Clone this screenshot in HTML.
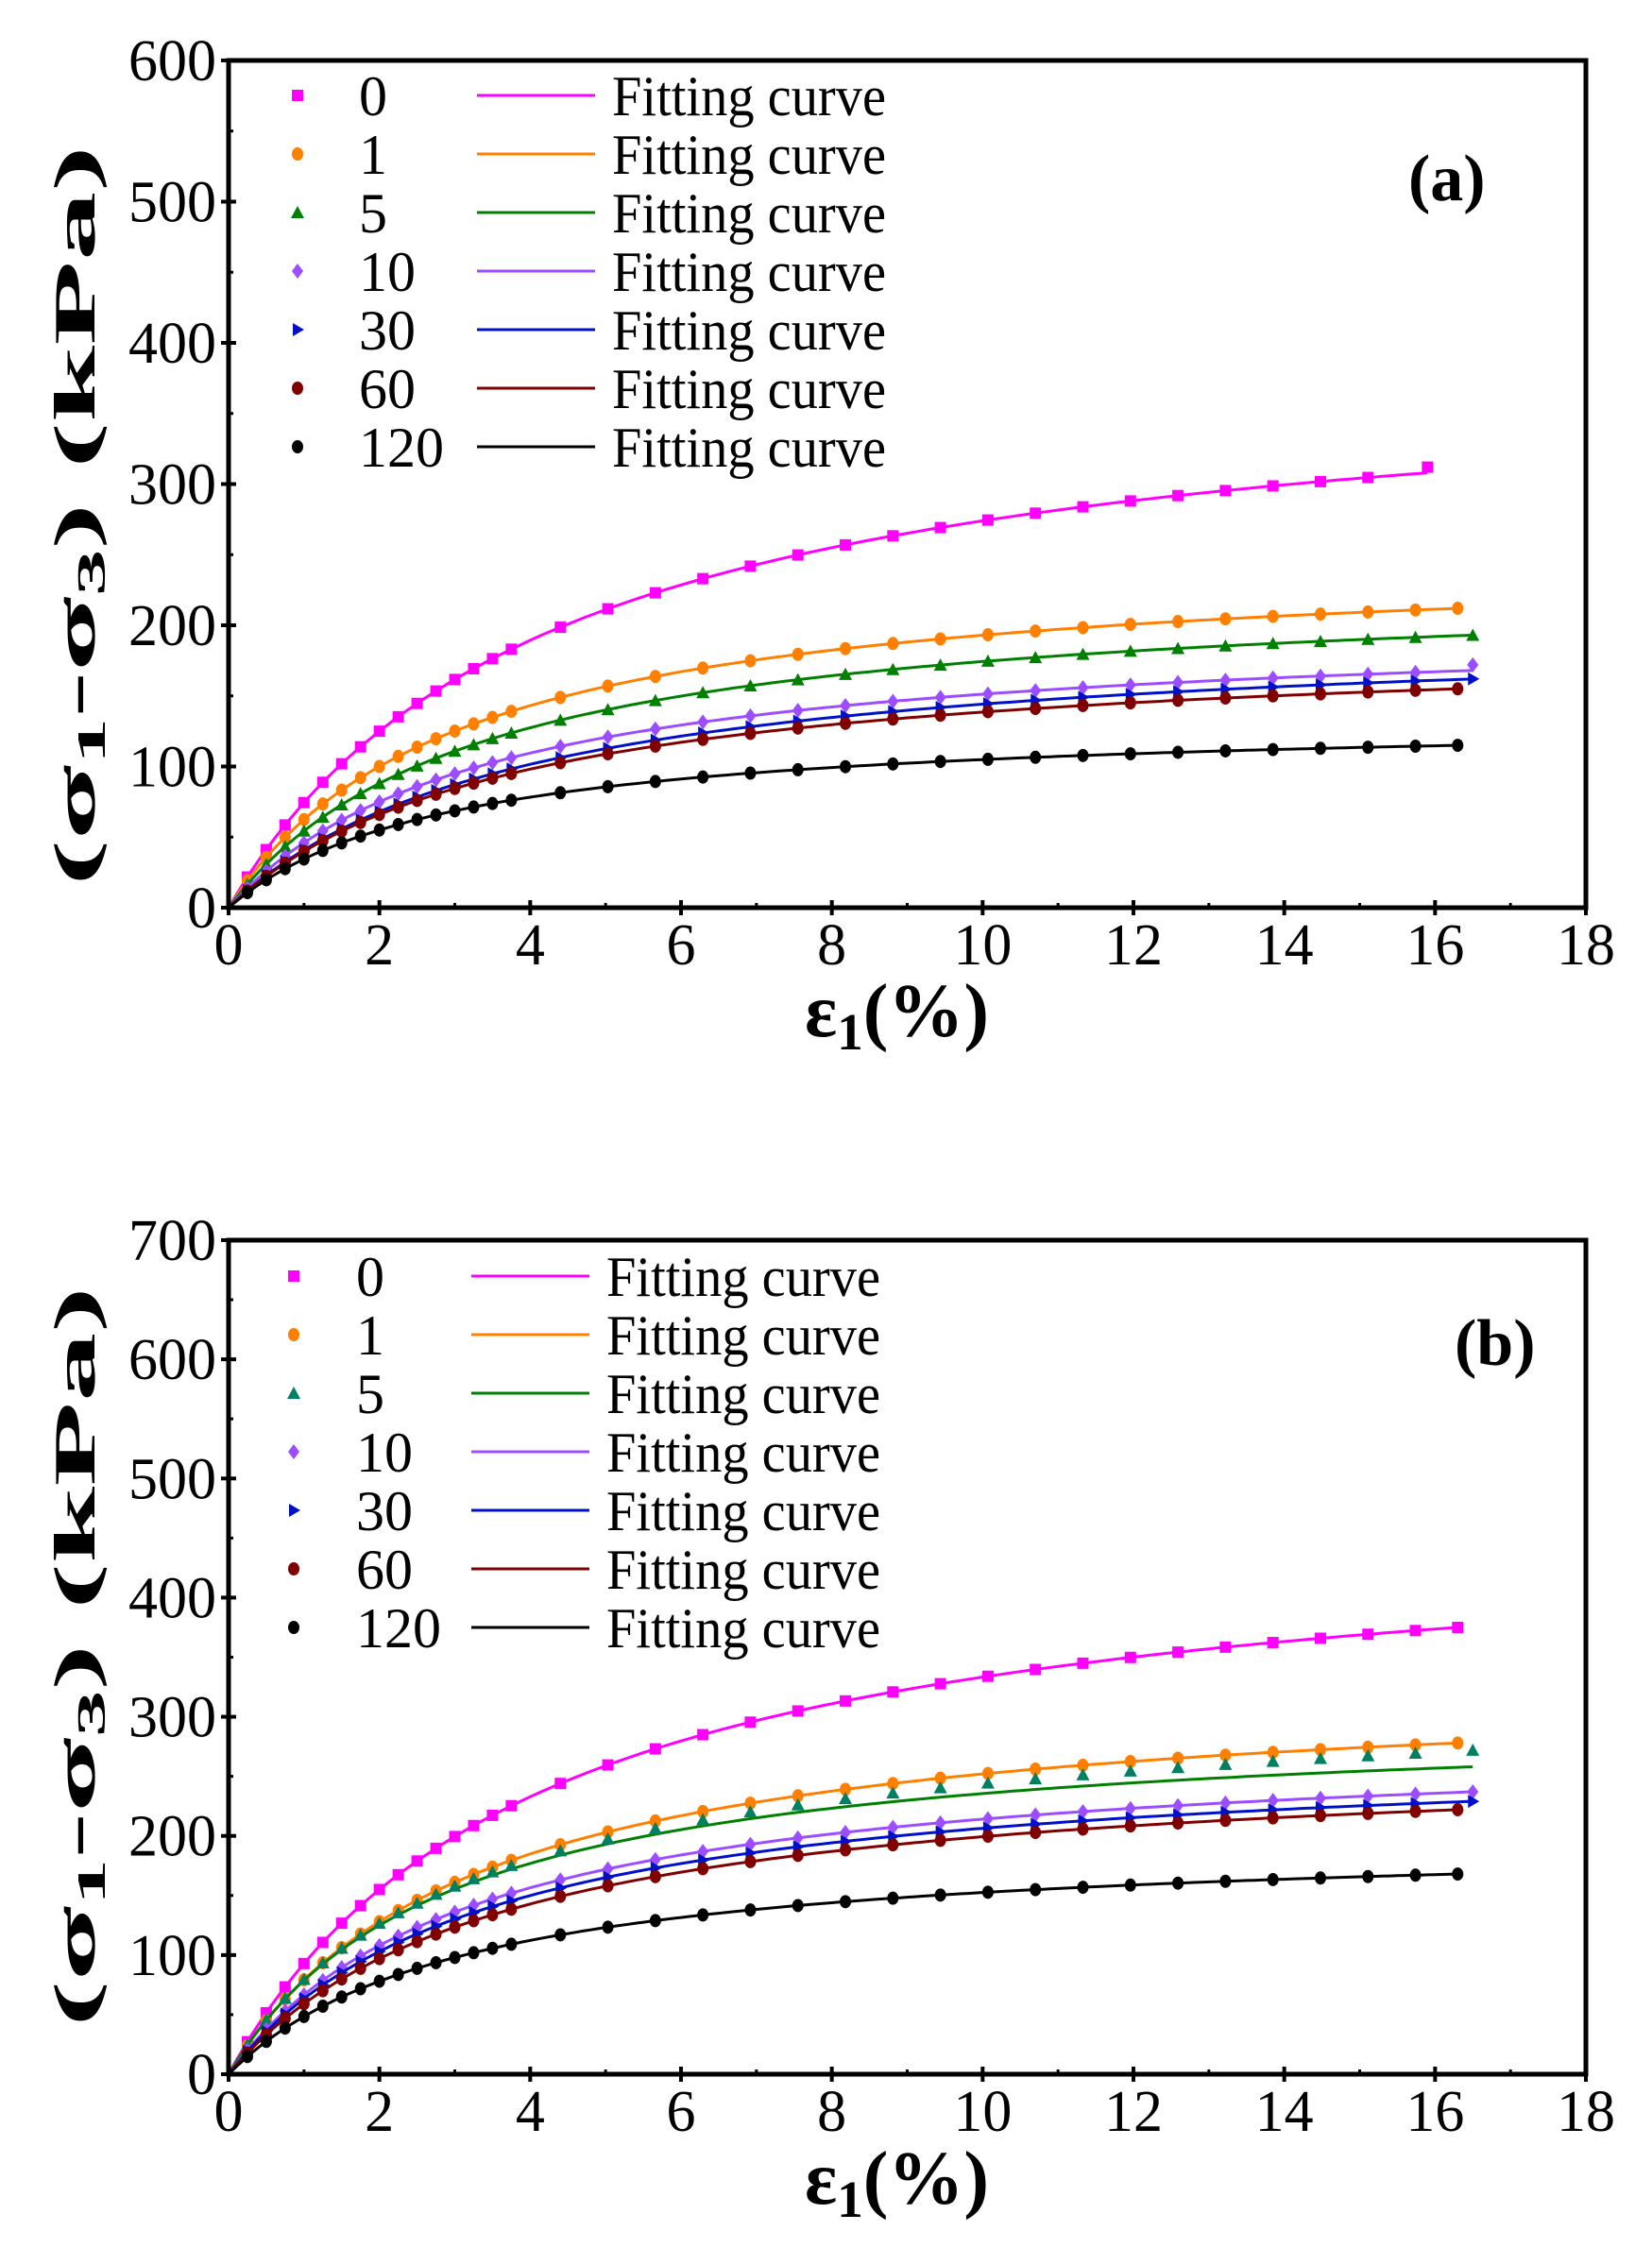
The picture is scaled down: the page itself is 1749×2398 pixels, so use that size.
<!DOCTYPE html>
<html><head><meta charset="utf-8"><style>
html,body{margin:0;padding:0;background:#fff;}
svg, svg text, svg tspan{font-family:"Liberation Serif","Times New Roman",Times,"DejaVu Serif",serif;}
</style></head><body>
<svg id="s" width="1749" height="2393" viewBox="0 0 1749 2393" xmlns="http://www.w3.org/2000/svg">
<rect width="1749" height="2393" fill="#fff"/>
<g id="g"></g>
<text x="1491" y="212" font-size="70" font-weight="bold">(a)</text>
<text transform="translate(100,546) rotate(-90)" text-anchor="middle" font-size="62" font-weight="bold" textLength="784" lengthAdjust="spacingAndGlyphs">(σ<tspan font-size="42" dy="11">1</tspan><tspan dy="-11">-σ</tspan><tspan font-size="42" dy="11">3</tspan><tspan dy="-11">) (kPa)</tspan></text>
<text x="852" y="1097" font-size="80" font-weight="bold">ε<tspan font-size="55" dy="14">1</tspan><tspan dy="-14">(%)</tspan></text>
<text x="1540" y="1445" font-size="70" font-weight="bold">(b)</text>
<text transform="translate(100,1754) rotate(-90)" text-anchor="middle" font-size="62" font-weight="bold" textLength="784" lengthAdjust="spacingAndGlyphs">(σ<tspan font-size="42" dy="11">1</tspan><tspan dy="-11">-σ</tspan><tspan font-size="42" dy="11">3</tspan><tspan dy="-11">) (kPa)</tspan></text>
<text x="852" y="2333" font-size="80" font-weight="bold">ε<tspan font-size="55" dy="14">1</tspan><tspan dy="-14">(%)</tspan></text>
</svg>
<script>
var NS="http://www.w3.org/2000/svg",G=document.getElementById("g");
function el(t,a,txt){var e=document.createElementNS(NS,t);for(var k in a)e.setAttribute(k,a[k]);if(txt!=null)e.textContent=txt;G.appendChild(e);return e;}
var cols=["#ff00ff","#ff8000","#008000","#9b4dff","#0010c8","#800000","#000000"];
var labs=["0","1","5","10","30","60","120"];
function marker(shape,x,y,c){
 var r=6;
 if(shape==0) el("rect",{x:x-r,y:y-r,width:2*r,height:2*r,fill:c});
 else if(shape==2) el("polygon",{points:(x)+","+(y-7)+" "+(x+7)+","+(y+6)+" "+(x-7)+","+(y+6),fill:c});
 else if(shape==3) el("polygon",{points:x+","+(y-8)+" "+(x+6)+","+y+" "+x+","+(y+8)+" "+(x-6)+","+y,fill:c});
 else if(shape==4) el("polygon",{points:(x-5)+","+(y-7)+" "+(x+7)+","+y+" "+(x-5)+","+(y+7),fill:c});
 else el("ellipse",{cx:x,cy:y,rx:6,ry:7,fill:c});
}
function plot(P){
 var L=242,R=1679,T=P.top,B=P.bot,sx=(R-L)/18,sy=(B-T)/P.ymax;
 function X(v){return L+v*sx;} function Y(v){return B-v*sy;}
 P.ser.forEach(function(s,i){
  var q2=s[0],qe=s[1],ee=s[2],mend=s[3]||qe;
  var a,b; b=(ee/qe-2/q2)/(ee-2); a=2/q2-2*b;
  function f(e){return e/(a+b*e);}
  var d="";for(var e=0;e<=ee+0.001;e+=0.1){d+=(e==0?"M":"L")+X(e).toFixed(1)+","+Y(f(e)).toFixed(1);}
  el("path",{d:d,fill:"none",stroke:cols[i],"stroke-width":3});
  var xs=[];for(var k=1;k<=15;k++)xs.push(k*0.25);
  for(var e2=4.4;e2<ee-0.2;e2+=0.63)xs.push(e2);xs.push(ee);
  xs.forEach(function(e){var v=f(e);if(Math.abs(e-ee)<0.01)v=mend;else if(s[4])v=v+(mend-qe)*Math.min(1,e/ee);
   marker(i,X(e),Y(v),P.mcols?P.mcols[i]:cols[i]);});
 });
 el("rect",{x:L,y:T,width:R-L,height:B-T,fill:"none",stroke:"#000","stroke-width":5});
 for(var v=0;v<=18;v++){var x=X(v);
  if(v%2==0){el("line",{x1:x,y1:B-8,x2:x,y2:B+8,stroke:"#000","stroke-width":4});
   el("text",{x:x,y:B+60,"font-size":62,"text-anchor":"middle"},String(v));}
  else el("line",{x1:x,y1:B-5,x2:x,y2:B,stroke:"#000","stroke-width":3});}
 for(var v=0;v<=P.ymax;v+=50){var y=Y(v);
  if(v%100==0){el("line",{x1:L-8,y1:y,x2:L+8,y2:y,stroke:"#000","stroke-width":4});
   el("text",{x:229,y:y+21,"font-size":62,"text-anchor":"end"},String(v));}
  else el("line",{x1:L,y1:y,x2:L+5,y2:y,stroke:"#000","stroke-width":3});}
 for(var i=0;i<7;i++){var y=P.ly+62*i;
  marker(i,P.mx,y,P.mcols?P.mcols[i]:cols[i]);
  el("text",{x:P.tx,y:y+21,"font-size":60},labs[i]);
  el("line",{x1:P.lx,y1:y,x2:P.lx+125,y2:y,stroke:cols[i],"stroke-width":3});
  el("text",{x:P.lx+143,y:y+21,"font-size":60,textLength:290,lengthAdjust:"spacingAndGlyphs"},"Fitting curve");}
}
plot({top:64,bot:961,ymax:600,ly:101,mx:315,tx:380,lx:505,
 ser:[[125,308,15.9,312],[100,212,16.3],[88,193,16.5],[75,168,16.5,172],[68,162,16.5],[66,155,16.3],[55,115,16.3]]});
plot({top:1313,bot:2196,ymax:700,ly:1351,mx:311,tx:377,lx:499,
 mcols:["#ff00ff","#ff8000","#008060","#9b4dff","#0010c8","#800000","#000000"],
 ser:[[155,375,16.3],[128,278,16.3],[125,258,16.5,272,1],[108,237,16.5],[103,229,16.5],[97,222,16.3],[78,168,16.3]]});
</script>
</body></html>
